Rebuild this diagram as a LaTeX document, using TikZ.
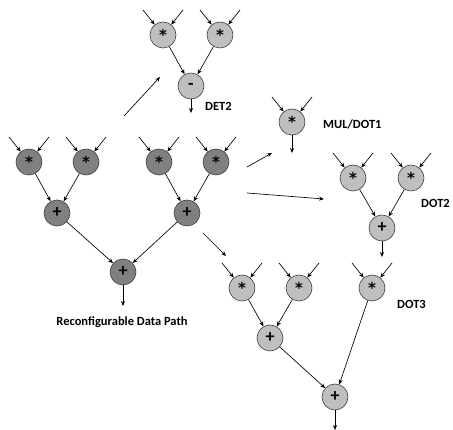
\documentclass[tikz,border=0pt]{standalone}
\usepackage{fontspec}
\setmainfont{Carlito}
\newfontfamily\symf{DejaVu Sans}
\usetikzlibrary{arrows.meta,calc}
\tikzset{
 op/.style={circle,draw=black!75,line width=0.6pt,minimum size=26pt,inner sep=0pt,font=\bfseries\fontsize{18}{18}\selectfont},
 dk/.style={op,fill=black!50},
 lt/.style={op,fill=black!25},
 arr/.style={-{Stealth[length=5pt,width=4pt]},line width=0.65pt},
 lbl/.style={font=\bfseries\fontsize{12.5}{14}\selectfont,inner sep=0pt},
}
\newcommand{\st}{\raisebox{-4.5pt}{\symf\bfseries\fontsize{15}{15}\selectfont *}}
\begin{document}
\begin{tikzpicture}[x=1pt,y=-1pt]
\useasboundingbox (0,0) rectangle (453,430);
% dark tree
\node[dk] (a1) at (29,162) {\st};
\node[dk] (a2) at (86,162) {\st};
\node[dk] (a3) at (159,162) {\st};
\node[dk] (a4) at (216,162) {\st};
\node[dk] (p1) at (57,213) {+};
\node[dk] (p2) at (187,213) {+};
\node[dk] (r) at (123,272) {+};
% DET2
\node[lt] (d1) at (163,35) {\st};
\node[lt] (d2) at (220,35) {\st};
\node[lt] (dm) at (191,86) {-};
% MUL/DOT1
\node[lt] (m1) at (292,122) {\st};
% DOT2
\node[lt] (e1) at (353,178) {\st};
\node[lt] (e2) at (411,178) {\st};
\node[lt] (ep) at (382,228) {+};
% DOT3
\node[lt] (f1) at (242,288) {\st};
\node[lt] (f2) at (299,288) {\st};
\node[lt] (f3) at (372,288) {\st};
\node[lt] (fp) at (270,338) {+};
\node[lt] (fr) at (335,397) {+};
% inputs
\foreach \n in {a1,a2,a3,a4,d1,d2,m1,e1,e2,f1,f2,f3}{
  \coordinate (\n-l) at ($(\n)+(-20,-25)$);
  \coordinate (\n-r) at ($(\n)+(20,-25)$);
  \draw[arr] (\n-l) -- (\n);
  \draw[arr] (\n-r) -- (\n);
}
% internal edges
\draw[arr] (a1) -- (p1);
\draw[arr] (a2) -- (p1);
\draw[arr] (a3) -- (p2);
\draw[arr] (a4) -- (p2);
\draw[arr] (p1) -- (r);
\draw[arr] (p2) -- (r);
\draw[arr] (d1) -- (dm);
\draw[arr] (d2) -- (dm);
\draw[arr] (e1) -- (ep);
\draw[arr] (e2) -- (ep);
\draw[arr] (f1) -- (fp);
\draw[arr] (f2) -- (fp);
\draw[arr] (fp) -- (fr);
\draw[arr] (f3) -- (fr);
% outputs
\coordinate (ro) at (123,306);
\coordinate (dmo) at (191,113);
\coordinate (m1o) at (292,153);
\coordinate (epo) at (382,257);
\coordinate (fro) at (335,430);
\draw[arr] (r) -- (ro);
\draw[arr] (dm) -- (dmo);
\draw[arr] (m1) -- (m1o);
\draw[arr] (ep) -- (epo);
\draw[arr] (fr) -- (fro);
% mapping arrows
\coordinate (c1s) at (124,116); \coordinate (c1e) at (160,77);
\coordinate (c2s) at (247,167); \coordinate (c2e) at (272,153);
\coordinate (c3s) at (247,193); \coordinate (c3e) at (324,199);
\coordinate (c4s) at (203,233); \coordinate (c4e) at (226,256);
\draw[arr] (c1s) -- (c1e);
\draw[arr] (c2s) -- (c2e);
\draw[arr] (c3s) -- (c3e);
\draw[arr] (c4s) -- (c4e);
% labels
\node[lbl,anchor=west] (ldet) at (205,106) {DET2};
\node[lbl,anchor=west] (lmul) at (323,124) {MUL/DOT1};
\node[lbl,anchor=west] (ldot2) at (421,203) {DOT2};
\node[lbl,anchor=west] (ldot3) at (397,304) {DOT3};
\node[lbl] (lrdp) at (122,322) {Reconfigurable Data Path};
\end{tikzpicture}
\end{document}
